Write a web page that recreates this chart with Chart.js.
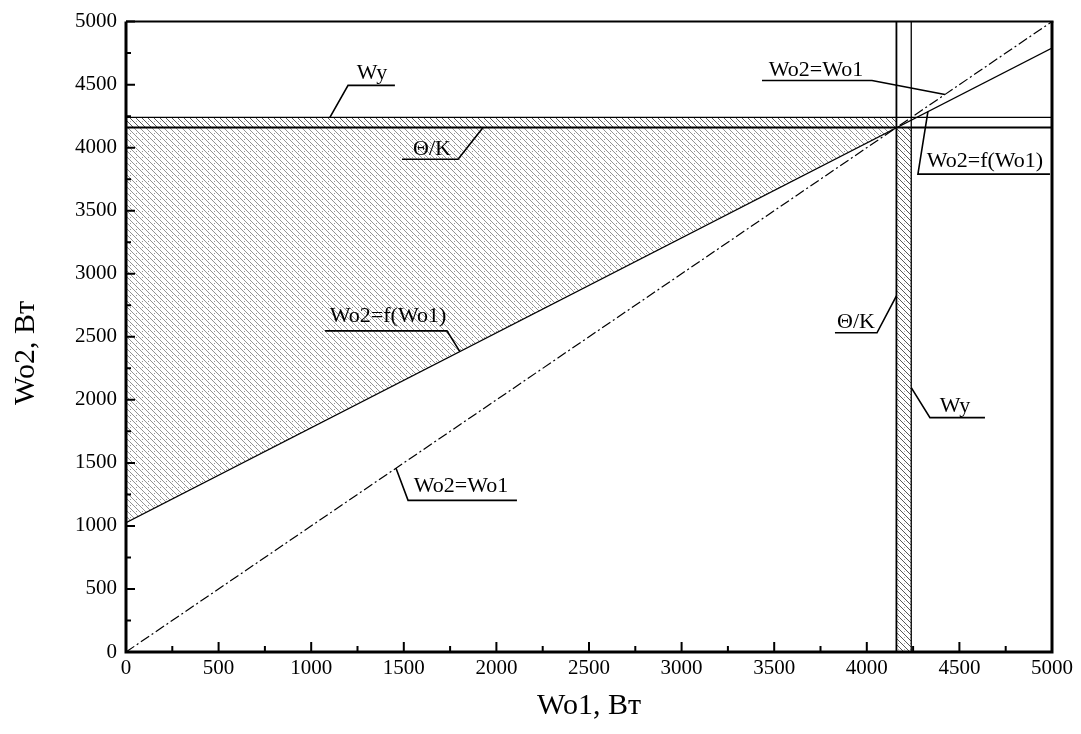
<!DOCTYPE html>
<html><head><meta charset="utf-8">
<script src="https://cdn.jsdelivr.net/npm/chart.js@4.4.0/dist/chart.umd.min.js"></script>
<style>html,body{margin:0;padding:0;background:#fff}#wrap{width:1081px;height:734px}</style>
</head><body><div id="wrap"><canvas id="c" width="1081" height="734"></canvas></div>
<script>
// ---- data ----
const xTicks = [0,500,1000,1500,2000,2500,3000,3500,4000,4500,5000];
const yTicks = [0,500,1000,1500,2000,2500,3000,3500,4000,4500,5000];
const xMinor = [250,750,1250,1750,2250,2750,3250,3750,4250,4750];
const yMinor = [250,750,1250,1750,2250,2750,3250,3750,4250,4750];
const xTitle = 'Wo1, Вт';
const yTitle = 'Wo2, Вт';
const diagX = [0,5000];          // Wo2 = Wo1
const diagY = [0,5000];
const fX = [0,5000];             // Wo2 = f(Wo1)
const fY = [1025,4790];
const thetaK = 4160;             // Θ/K level
const wy = 4240;                 // Wy level
const hatchMain = [[0,1025],[4160,4160],[0,4160],[0,1025]];
const hatchBandH = [[0,4160],[4160,4160],[4160,4240],[0,4240],[0,4160]];
const hatchBandV = [[4160,0],[4240,0],[4240,4160],[4160,4160],[4160,0]];
const labelTexts = ['Wy','Θ/K','Wo2=Wo1','Wo2=f(Wo1)','Θ/K','Wy','Wo2=f(Wo1)','Wo2=Wo1'];
const labelPos = [[1328,4541],[1652,3940],[3726,4565],[4638,3845],[3942,2571],[4476,1907],[1415,2619],[1809,1266]];
const leaders = [
  [[1101,4240],[1199,4494],[1452,4494]],
  [[1928,4160],[1793,3908],[1490,3908]],
  [[4422,4422],[4028,4533],[3434,4533]],
  [[4330,4286],[4276,3790],[4989,3790]],
  [[4160,2824],[4055,2532],[3828,2532]],
  [[4240,2097],[4341,1859],[4638,1859]],
  [[1803,2383],[1733,2547],[1075,2547]],
  [[1458,1458],[1523,1203],[2111,1203]]
];
// ---- build ----
const canvas = document.getElementById('c');
const ctx = canvas.getContext('2d');
function makeHatch(alpha, dotAlpha){
  const c = document.createElement('canvas'); c.width = 6; c.height = 6;
  const g = c.getContext('2d');
  g.strokeStyle = 'rgba(0,0,0,'+alpha+')'; g.lineWidth = 1;
  g.beginPath();
  g.moveTo(-1,-1); g.lineTo(7,7);
  g.moveTo(-1,5); g.lineTo(1,7);
  g.moveTo(5,-1); g.lineTo(7,1);
  g.stroke();
  g.fillStyle = 'rgba(0,0,0,'+dotAlpha+')';
  g.fillRect(4,1,1,1);
  return ctx.createPattern(c,'repeat');
}
const hatchA = makeHatch(0.42, 0.4);
const hatchB = makeHatch(0.65, 0.3);
const pts = (xs, ys) => xs.map((x,i)=>({x, y: ys[i]}));
const poly = arr => arr.map(p=>({x:p[0], y:p[1]}));
const base = {showLine:true, pointRadius:0, borderColor:'#000', fill:false, tension:0};
const datasets = [
  {...base, data: poly(hatchMain), fill:'shape', backgroundColor: hatchA, borderWidth:0},
  {...base, data: poly(hatchBandH), fill:'shape', backgroundColor: hatchB, borderWidth:0},
  {...base, data: poly(hatchBandV), fill:'shape', backgroundColor: hatchB, borderWidth:0},
  {...base, data: pts(diagX, diagY), borderWidth:1.2, borderDash:[10,3,2,3]},
  {...base, data: pts(fX, fY), borderWidth:1.3},
  {...base, data: [{x:0,y:thetaK},{x:5000,y:thetaK}], borderWidth:1.8},
  {...base, data: [{x:0,y:wy},{x:5000,y:wy}], borderWidth:1.3},
  {...base, data: [{x:thetaK,y:0},{x:thetaK,y:5000}], borderWidth:1.8},
  {...base, data: [{x:wy,y:0},{x:wy,y:5000}], borderWidth:1.3},
  ...leaders.map(l => ({...base, data: poly(l), borderWidth:1.6}))
];
const serif = 'Liberation Serif';
const framePlugin = {
  id:'frame',
  afterDatasetsDraw(chart){
    const {ctx, chartArea:a, scales:{x, y}} = chart;
    ctx.save();
    ctx.strokeStyle = '#000';
    ctx.lineCap = 'butt';
    // ticks
    ctx.lineWidth = 2;
    ctx.beginPath();
    xTicks.forEach(v=>{const p=x.getPixelForValue(v); ctx.moveTo(p,a.bottom); ctx.lineTo(p,a.bottom-10);});
    yTicks.forEach(v=>{const p=y.getPixelForValue(v); ctx.moveTo(a.left,p); ctx.lineTo(a.left+9,p);});
    ctx.stroke();
    ctx.beginPath();
    xMinor.forEach(v=>{const p=x.getPixelForValue(v); ctx.moveTo(p,a.bottom); ctx.lineTo(p,a.bottom-6);});
    yMinor.forEach(v=>{const p=y.getPixelForValue(v); ctx.moveTo(a.left,p); ctx.lineTo(a.left+5,p);});
    ctx.stroke();
    // frame
    ctx.lineWidth = 3;
    ctx.beginPath();
    ctx.moveTo(a.left, a.top); ctx.lineTo(a.left, a.bottom); ctx.lineTo(a.right, a.bottom); ctx.lineTo(a.right, a.top);
    ctx.stroke();
    ctx.lineWidth = 2;
    ctx.beginPath(); ctx.moveTo(a.left, a.top); ctx.lineTo(a.right+1.5, a.top); ctx.stroke();
    // labels
    ctx.fillStyle = '#000';
    ctx.font = '22px "' + serif + '"';
    ctx.textAlign = 'center';
    ctx.textBaseline = 'alphabetic';
    labelTexts.forEach((t,i)=>{
      ctx.fillText(t, x.getPixelForValue(labelPos[i][0]), y.getPixelForValue(labelPos[i][1]));
    });
    // axis titles
    ctx.font = '30px "' + serif + '"';
    ctx.textBaseline = 'middle';
    ctx.fillText(xTitle, (a.left + a.right) / 2, 706);
    ctx.translate(26, 353);
    ctx.rotate(-Math.PI / 2);
    ctx.fillText(yTitle, 0, 0);
    ctx.restore();
  }
};
new Chart(ctx, {
  type:'scatter',
  data:{datasets},
  options:{
    responsive:false, animation:false, events:[],
    layout:{padding:{top:20,right:29,left:0,bottom:0}},
    plugins:{legend:{display:false}, tooltip:{enabled:false}},
    scales:{
      x:{type:'linear', min:0, max:5000,
        afterBuildTicks: s => { s.ticks = xTicks.map(v=>({value:v})); },
        ticks:{font:{family:serif,size:21}, color:'#000', padding:4, maxRotation:0, autoSkip:false, callback: v => String(v)},
        grid:{display:false, drawTicks:false}, border:{display:false},
        afterFit: s => { s.height = 82; }
      },
      y:{type:'linear', min:0, max:5000,
        afterBuildTicks: s => { s.ticks = yTicks.map(v=>({value:v})); },
        ticks:{font:{family:serif,size:21}, color:'#000', padding:9, autoSkip:false, callback: v => String(v)},
        grid:{display:false, drawTicks:false}, border:{display:false},
        afterFit: s => { s.width = 126; }
      }
    }
  },
  plugins:[framePlugin]
});
</script></body></html>
